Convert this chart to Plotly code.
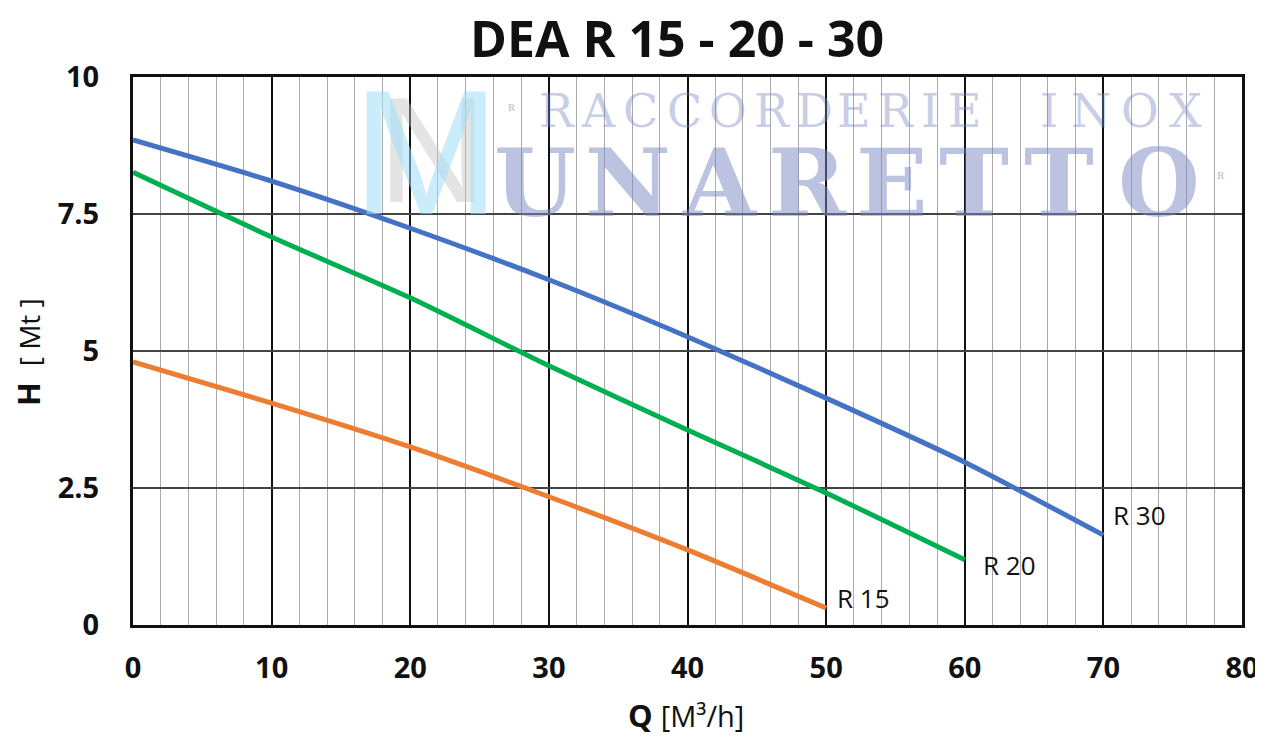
import plotly.graph_objects as go

# ---- data ----
q_r30 = [0, 10, 20, 30, 40, 50, 60, 70]
h_r30 = [8.85, 8.10, 7.24, 6.30, 5.26, 4.14, 2.97, 1.64]

q_r20 = [0, 10, 20, 30, 40, 50, 60]
h_r20 = [8.26, 7.08, 5.97, 4.73, 3.56, 2.41, 1.19]

q_r15 = [0, 10, 20, 30, 40, 50]
h_r15 = [4.80, 4.05, 3.25, 2.34, 1.37, 0.31]

series_names = ["R 30", "R 20", "R 15"]
series_colors = ["#4472C4", "#00B050", "#ED7D31"]

x_ticks = [0, 10, 20, 30, 40, 50, 60, 70, 80]
y_ticks = [0, 2.5, 5, 7.5, 10]
y_tick_text = ["0", "2.5", "5", "7.5", "10"]

title_text = "DEA R 15 - 20 - 30"

FONT = "Open Sans"

# the page body adds an 8px offset
W, H = 1263, 726

fig = go.Figure()

label_shifts = {"R 30": (8, 20), "R 20": (16, -5), "R 15": (9, 10)}
for q, h, name, col in zip([q_r30, q_r20, q_r15], [h_r30, h_r20, h_r15],
                           series_names, series_colors):
    fig.add_trace(go.Scatter(x=q, y=h, mode="lines", name=name,
                             line=dict(color=col, width=5, shape="spline", smoothing=0.6),
                             showlegend=False, hoverinfo="skip"))
    xs, ys = label_shifts[name]
    fig.add_annotation(x=q[-1], y=h[-1], text=name, showarrow=False,
                       xanchor="left", yanchor="middle", xshift=xs, yshift=ys,
                       font=dict(family=FONT, size=26, color="#111"))

# ---- watermark ----
wm_col = "rgba(120,135,195,0.5)"
letters_top = list("RACCORDERIE INOX")
xs_top = [557, 599, 641, 685, 729, 773, 815, 855, 897, 931, 966, None, 1050, 1092, 1141, 1186]
for ch, px in zip(letters_top, xs_top):
    if px is None:
        continue
    fig.add_annotation(xref="paper", yref="paper", x=(px - 133) / 1110, y=(625 - 111) / 548,
                       text=ch, showarrow=False, xanchor="center", yanchor="middle",
                       font=dict(family="DejaVu Serif", size=46, color="rgba(120,135,195,0.42)"))
letters_big = list("UNARETTO")
xs_big = [535, 628, 720, 808, 893, 975, 1060, 1160]
for ch, px in zip(letters_big, xs_big):
    fig.add_annotation(xref="paper", yref="paper", x=(px - 133) / 1110, y=(625 - 183) / 548,
                       text="<b>" + ch + "</b>", showarrow=False, xanchor="center", yanchor="middle",
                       font=dict(family="DejaVu Serif", size=94, color=wm_col))
fig.add_annotation(xref="paper", yref="paper", x=(432 - 133) / 1110, y=(625 - 150) / 548,
                   text="N", showarrow=False, xanchor="center", yanchor="middle",
                   font=dict(family="Liberation Sans", size=150, color="rgba(195,195,195,0.45)"))
fig.add_annotation(xref="paper", yref="paper", x=(426 - 133) / 1110, y=(625 - 152) / 548,
                   text="M", showarrow=False, xanchor="center", yanchor="middle",
                   font=dict(family="Liberation Sans", size=178, color="rgba(160,220,245,0.55)"))
for px, py in [(512, 99), (1228, 167)]:
    fig.add_annotation(xref="paper", yref="paper", x=(px - 133) / 1110, y=(625 - py) / 548,
                       text="R", showarrow=False, font=dict(family="Liberation Serif", size=11, color="#bbb"))

# ---- axis titles ----
fig.add_annotation(xref="paper", yref="paper", x=(686 - 133) / 1110, y=(625 - 715) / 548,
                   text="<b>Q</b> <span style='font-size:29px'>[M³/h]</span>", showarrow=False,
                   xanchor="center", yanchor="middle", font=dict(family=FONT, size=31, color="#111"))
fig.add_annotation(xref="paper", yref="paper", x=(28 - 133) / 1110, y=(625 - 352) / 548,
                   text="<b>H</b>  <span style='font-size:28px'>[ Mt ]</span>", showarrow=False,
                   textangle=-90, xanchor="center", yanchor="middle",
                   font=dict(family=FONT, size=31, color="#111"))

fig.update_layout(
    width=W, height=H,
    margin=dict(l=125, r=27, t=69, b=109),
    paper_bgcolor="white", plot_bgcolor="white",
    title=dict(text="<b>" + title_text + "</b>", x=669 / W, xanchor="center",
               y=1 - 31 / H, yanchor="middle",
               font=dict(family=FONT, size=50, color="#111")),
    xaxis=dict(range=[0, 80], tickvals=x_ticks, showgrid=True, gridcolor="#111", gridwidth=2,
               minor=dict(dtick=2, showgrid=True, gridcolor="#aaa", gridwidth=1),
               showline=True, linecolor="#111", linewidth=3, mirror=True,
               ticks="", ticklabelstandoff=15, ticklabeloverflow="allow",
               tickfont=dict(family=FONT, size=29, color="#111", weight="bold"), zeroline=False),
    yaxis=dict(range=[0, 10], tickvals=y_ticks, ticktext=y_tick_text, showgrid=True,
               gridcolor="#444", gridwidth=1.5,
               showline=True, linecolor="#111", linewidth=3, mirror=True,
               ticks="", ticklabelstandoff=25, ticklabeloverflow="allow",
               tickfont=dict(family=FONT, size=29, color="#111", weight="bold"), zeroline=False),
)

fig.write_html("out.html")
